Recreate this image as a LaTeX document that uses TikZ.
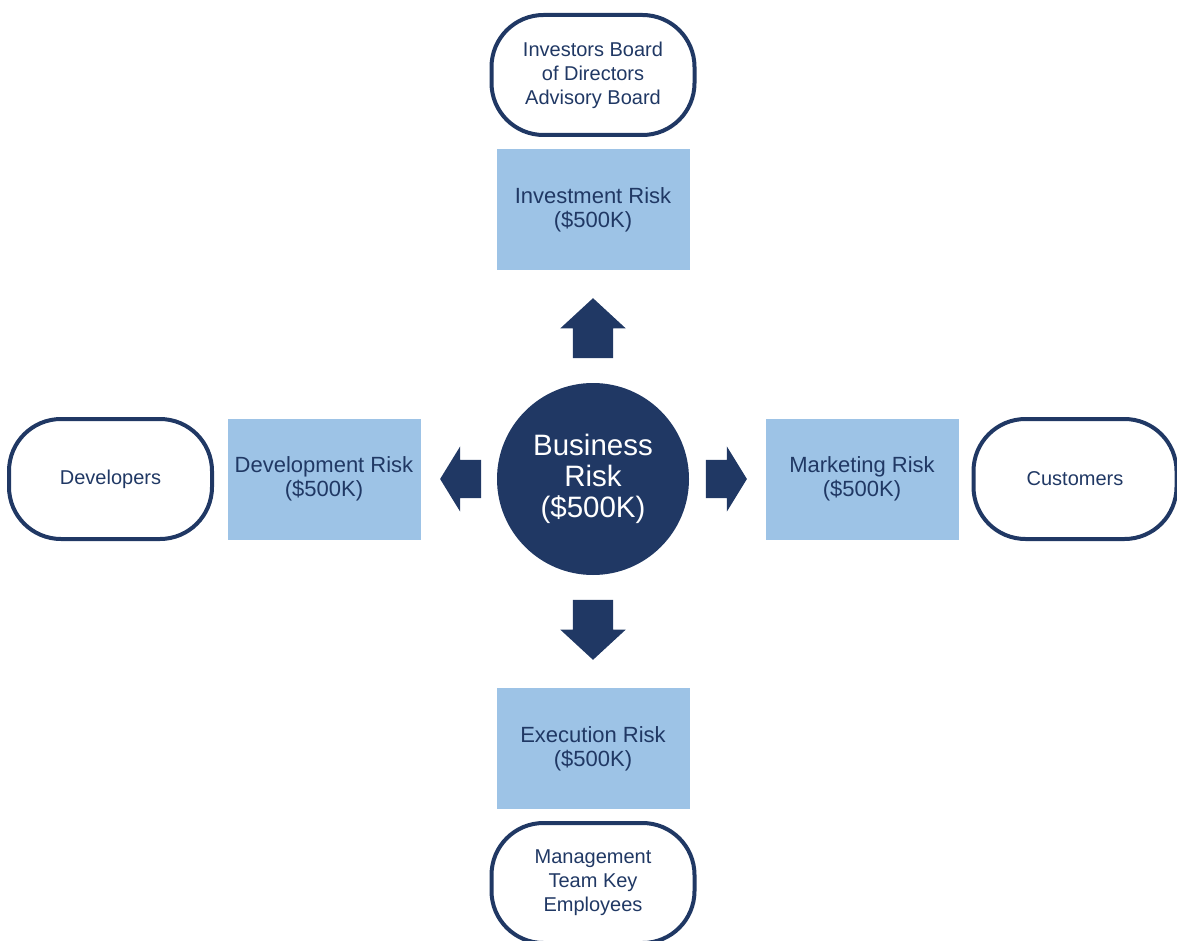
\documentclass[tikz,border=0pt]{standalone}
\usepackage{fontspec}
\setmainfont{Liberation Sans}
\usetikzlibrary{positioning, shapes.arrows}
\definecolor{navy}{HTML}{203864}
\definecolor{riskblue}{HTML}{9DC3E6}

\tikzset{
  party/.style={draw=navy, line width=4pt, rounded corners=52pt,
    minimum width=203pt, minimum height=120pt, align=center, text=navy,
    font=\fontsize{20}{24}\selectfont},
  risk/.style={fill=riskblue, minimum width=193pt, minimum height=121pt,
    align=center, text=navy, font=\fontsize{22}{24}\selectfont},
  core/.style={circle, fill=navy, minimum size=192pt, inner sep=0pt,
    align=center, text=white, font=\fontsize{29.5}{31}\selectfont},
  push/.style={single arrow, fill=navy, inner xsep=0pt},
  pushlong/.style={push, inner ysep=20pt, minimum height=60pt,
    single arrow head extend=12.5pt, single arrow tip angle=94.6},
  pushshort/.style={push, inner ysep=19pt, minimum height=41pt,
    single arrow head extend=13.5pt, single arrow tip angle=116.8}
}

\begin{document}
\begin{tikzpicture}[x=1pt, y=-1pt, on grid]
  \useasboundingbox (0,0) rectangle (1177,941);
  \node[core] (biz) at (593,479) {Business\\Risk\\(\$500K)};

  \node[risk] (inv) [above=269.5pt of biz] {Investment Risk\\(\$500K)};
  \node[risk] (exe) [below=269.5pt of biz] {Execution Risk\\(\$500K)};
  \node[risk] (dev) [left=269pt of biz] {Development Risk\\(\$500K)};
  \node[risk] (mkt) [right=269pt of biz] {Marketing Risk\\(\$500K)};

  \node[party] (board) [above=134.5pt of inv] {Investors Board\\of Directors\\Advisory Board};
  \node[party] (staff) [below=134.5pt of exe] {Management\\Team Key\\Employees};
  \node[party] (devs) [left=213.5pt of dev] {Developers};
  \node[party] (cust) [right=213pt of mkt] {Customers};

  \node[pushlong, rotate=90] (toinv) [above=141.5pt of biz] {};
  \node[pushlong, rotate=-90] (toexe) [below=141.5pt of biz] {};
  \node[pushshort, rotate=180] (todev) [left=126.5pt of biz] {};
  \node[pushshort] (tomkt) [right=127.5pt of biz] {};
\end{tikzpicture}
\end{document}
